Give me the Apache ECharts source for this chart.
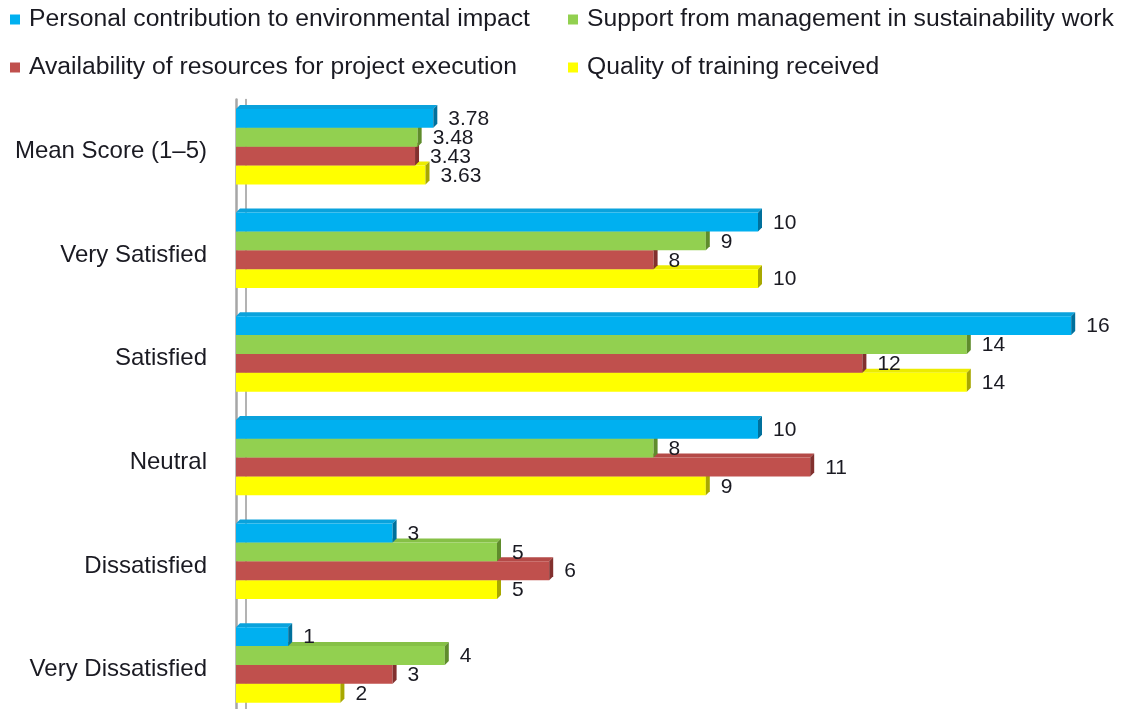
<!DOCTYPE html>
<html>
<head>
<meta charset="utf-8">
<script src="https://cdn.jsdelivr.net/npm/echarts@6/dist/echarts.min.js"></script>
<style>
html,body{margin:0;padding:0;background:#fff;overflow:hidden;}
#chart{width:1129px;height:730px;}
</style>
</head>
<body>
<div id="chart"></div>
<script>
var categories = ['Mean Score (1–5)', 'Very Satisfied', 'Satisfied', 'Neutral', 'Dissatisfied', 'Very Dissatisfied'];
var seriesNames = [
  'Personal contribution to environmental impact',
  'Support from management in sustainability work',
  'Availability of resources for project execution',
  'Quality of training received'
];
var personal = [3.78, 10, 16, 10, 3, 1];
var support = [3.48, 9, 14, 8, 5, 4];
var resources = [3.43, 8, 12, 11, 6, 3];
var training = [3.63, 10, 14, 9, 5, 2];

var frontColors = ['#00b0f0', '#92d050', '#c0504d', '#ffff00'];
var topColors = ['#0aa2dc', '#86c046', '#b44a47', '#ecec00'];
var sideColors = ['#00709c', '#5f8c2c', '#82302e', '#a8a800'];

var FONT = "'Liberation Sans', Arial, sans-serif";
var values = [personal, support, resources, training];

function renderItem(params, api) {
  var si = params.seriesIndex;
  var cat = api.value(1);
  var val = api.value(0);
  var p0 = api.coord([0, cat]);
  var p1 = api.coord([val, cat]);
  var band = api.size([0, 1])[1];
  var th = band * 0.182;
  var d = 4;
  var gc = p0[1] - band * 0.045;
  var y0 = gc + (si - 2) * th;
  var x0 = p0[0], x1 = p1[0];
  return {
    type: 'group',
    children: [
      {
        type: 'polygon',
        shape: { points: [[x0, y0], [x1, y0], [x1 + d, y0 - d], [x0 + d, y0 - d]] },
        style: { fill: topColors[si] }
      },
      {
        type: 'rect',
        shape: { x: x0, y: y0, width: x1 - x0, height: th },
        style: { fill: frontColors[si] }
      },
      {
        type: 'polygon',
        shape: { points: [[x1, y0], [x1 + d, y0 - d], [x1 + d, y0 + th - d], [x1, y0 + th]] },
        style: { fill: sideColors[si] }
      },
      {
        type: 'text',
        x: x1 + d + 11,
        y: y0 + th / 2 + 1,
        style: {
          text: String(val),
          fill: '#1a1a22',
          font: '21px ' + FONT,
          verticalAlign: 'middle',
          align: 'left'
        },
        z2: 100
      }
    ]
  };
}

var series = values.map(function (arr, si) {
  return {
    name: seriesNames[si],
    type: 'custom',
    renderItem: renderItem,
    xAxisIndex: 0,
    yAxisIndex: 0,
    z: 10 - si,
    itemStyle: { color: frontColors[si] },
    encode: { x: 0, y: 1 },
    data: arr.map(function (v, i) { return [v, i]; })
  };
});

var legendPos = [
  { left: 10, top: 7 },
  { left: 568, top: 7 },
  { left: 10, top: 55 },
  { left: 568, top: 55 }
];

var option = {
  animation: false,
  backgroundColor: '#ffffff',
  textStyle: { fontFamily: FONT },
  legend: seriesNames.map(function (name, si) {
    return {
      data: [name],
      left: legendPos[si].left,
      top: legendPos[si].top,
      padding: 0,
      icon: 'rect',
      itemWidth: 10,
      itemHeight: 10,
      selectedMode: false,
      textStyle: { fontSize: 24.7, color: '#1a1a22', fontFamily: FONT, padding: [0, 0, 0, 4] }
    };
  }),
  grid: { left: 236, top: 99.5, width: 887.4, height: 621.9, containLabel: false },
  xAxis: {
    type: 'value',
    min: 0,
    max: 17,
    show: false
  },
  yAxis: [
    {
      type: 'category',
      data: categories,
      inverse: true,
      offset: 6,
      axisLine: { show: true, lineStyle: { color: '#a6a6a6', width: 2.5 } },
      axisTick: { show: false },
      axisLabel: { margin: 23, fontSize: 24, color: '#1a1a22', fontFamily: FONT },
      splitLine: { show: false }
    },
    {
      type: 'category',
      data: categories,
      inverse: true,
      position: 'left',
      offset: -9.5,
      axisLine: { show: true, lineStyle: { color: '#9a9a9a', width: 1.5 } },
      axisTick: { show: false },
      axisLabel: { show: false },
      splitLine: { show: false }
    }
  ],
  series: series
};

var chart = echarts.init(document.getElementById('chart'), null, { renderer: 'canvas' });
chart.setOption(option);
</script>
</body>
</html>
